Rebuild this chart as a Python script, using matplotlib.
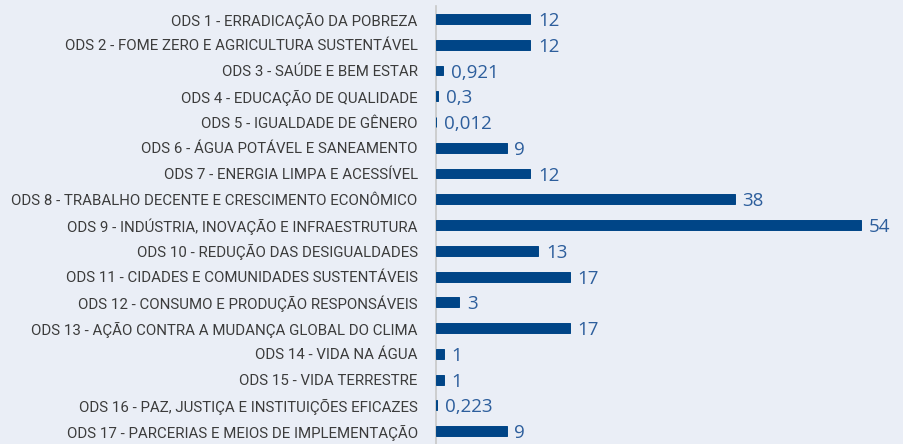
import matplotlib
matplotlib.use("Agg")
import matplotlib.pyplot as plt

categorias = [
    "ODS 1 - ERRADICAÇÃO DA POBREZA",
    "ODS 2 - FOME ZERO E AGRICULTURA SUSTENTÁVEL",
    "ODS 3 - SAÚDE E BEM ESTAR",
    "ODS 4 - EDUCAÇÃO DE QUALIDADE",
    "ODS 5 - IGUALDADE DE GÊNERO",
    "ODS 6 - ÁGUA POTÁVEL E SANEAMENTO",
    "ODS 7 - ENERGIA LIMPA E ACESSÍVEL",
    "ODS 8 - TRABALHO DECENTE E CRESCIMENTO ECONÔMICO",
    "ODS 9 - INDÚSTRIA, INOVAÇÃO E INFRAESTRUTURA",
    "ODS 10 - REDUÇÃO DAS DESIGUALDADES",
    "ODS 11 - CIDADES E COMUNIDADES SUSTENTÁVEIS",
    "ODS 12 - CONSUMO E PRODUÇÃO RESPONSÁVEIS",
    "ODS 13 - AÇÃO CONTRA A MUDANÇA GLOBAL DO CLIMA",
    "ODS 14 - VIDA NA ÁGUA",
    "ODS 15 - VIDA TERRESTRE",
    "ODS 16 - PAZ, JUSTIÇA E INSTITUIÇÕES EFICAZES",
    "ODS 17 - PARCERIAS E MEIOS DE IMPLEMENTAÇÃO",
]
valores = [12, 12, 0.921, 0.3, 0.012, 9, 12, 38, 54, 13, 17, 3, 17, 1, 1, 0.223, 9]
rotulos = ["12", "12", "0,921", "0,3", "0,012", "9", "12", "38", "54", "13", "17", "3", "17", "1", "1", "0,223", "9"]

bg = "#eaeef6"
fig = plt.figure(figsize=(9.04, 4.44), dpi=100, facecolor=bg)
ax = fig.add_axes([0.482, 0.0, 0.518, 0.986], facecolor=bg)

y = list(range(len(categorias)))
# bars above the spine so the tiny values still show
ax.barh(y, valores, height=0.38, color="#004587", edgecolor="#004587",
        linewidth=0.7, zorder=3)
ax.set_ylim(len(categorias) - 0.5, -0.5)
ax.set_xlim(0, 59.5)

for i, (v, r) in enumerate(zip(valores, rotulos)):
    ax.text(v + 1.0, i, r, va="center_baseline", ha="left", fontsize=13.5,
            color="#2d5e9c", family="Open Sans")

ax.set_yticks(y)
ax.set_yticklabels(categorias, fontsize=10.85, color="#3c3c3c", family="Roboto")
ax.tick_params(axis="y", length=0, pad=13)
ax.set_xticks([])
for s in ["top", "right", "bottom"]:
    ax.spines[s].set_visible(False)
ax.spines["left"].set_color("#c8c8c8")
ax.spines["left"].set_linewidth(1.2)

fig.savefig("out.png", dpi=100, facecolor=bg)
